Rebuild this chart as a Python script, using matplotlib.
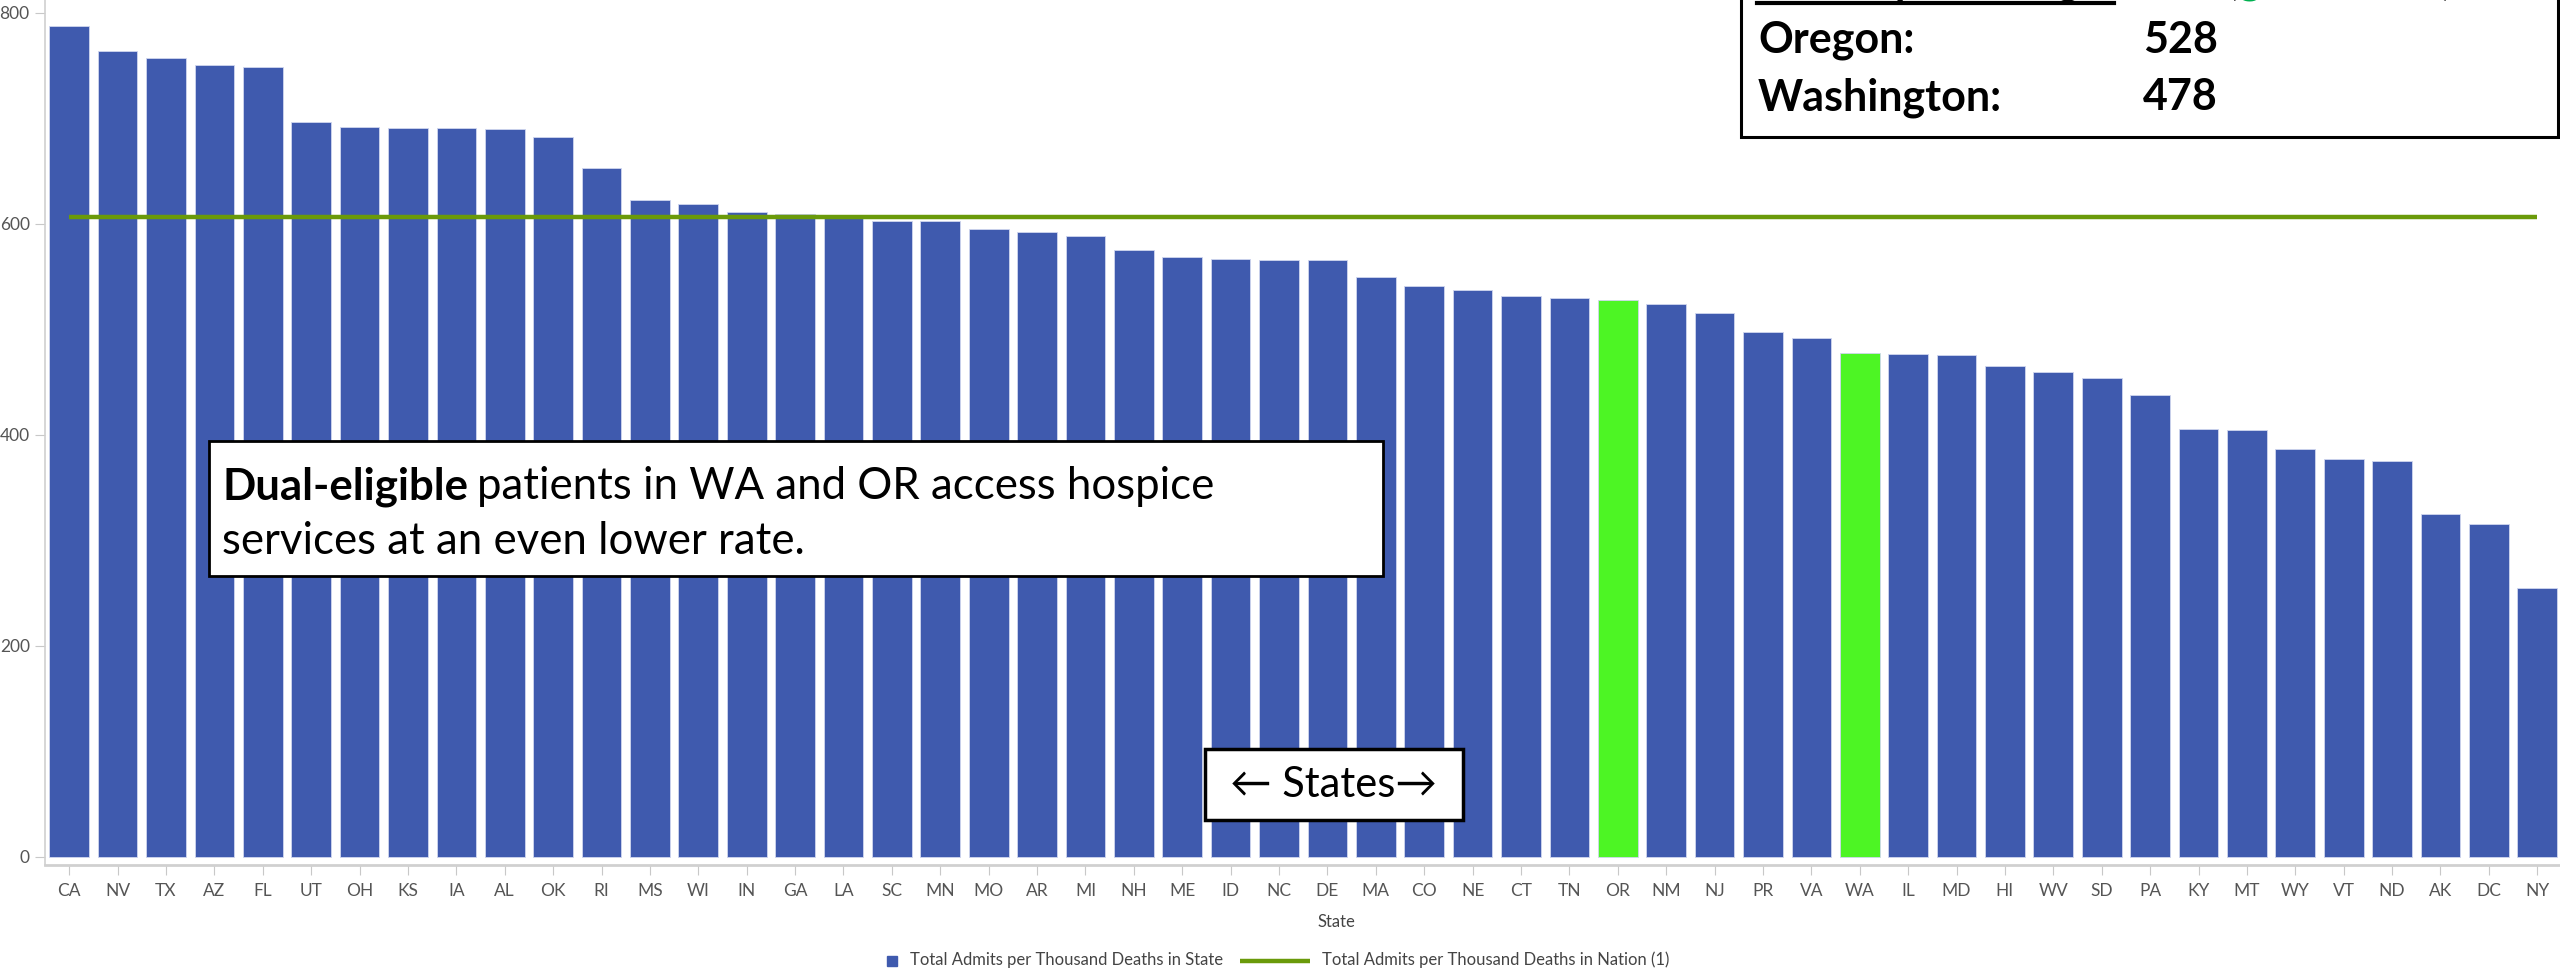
import matplotlib
matplotlib.use("Agg")
import matplotlib.pyplot as plt
from matplotlib.patches import Rectangle
from matplotlib.lines import Line2D

states = ["CA", "NV", "TX", "AZ", "FL", "UT", "OH", "KS", "IA", "AL", "OK", "RI", "MS",
          "WI", "IN", "GA", "LA", "SC", "MN", "MO", "AR", "MI", "NH", "ME", "ID", "NC",
          "DE", "MA", "CO", "NE", "CT", "TN", "OR", "NM", "NJ", "PR", "VA", "WA", "IL",
          "MD", "HI", "WV", "SD", "PA", "KY", "MT", "WY", "VT", "ND", "AK", "DC", "NY"]
admits = [788, 764, 757, 751, 749, 697, 692, 691, 691, 690, 682, 653, 623,
          619, 611, 609, 606, 603, 603, 595, 592, 589, 575, 569, 567, 566,
          566, 550, 541, 537, 532, 530, 528, 524, 516, 498, 492, 478, 477,
          476, 465, 460, 454, 438, 406, 405, 387, 377, 375, 325, 316, 255]
highlight = ["OR", "WA"]
nation_rate = 607
yticks = [0, 200, 400, 600, 800]
legend_labels = ["Total Admits per Thousand Deaths in State",
                 "Total Admits per Thousand Deaths in Nation (1)"]

W, H = 2560, 969
BLUE = "#3F5AAE"
GREEN = "#4DF524"
OLIVE = "#6A9A0A"
FONT = ["Lato", "DejaVu Sans"]

def fx(x):
    return x / W

def fy(y):
    return 1 - y / H

fig = plt.figure(figsize=(W / 100, H / 100), dpi=100)
ax = fig.add_axes([fx(45), fy(865), 1 - fx(45), 865 / H])

x = list(range(len(states)))
colors = [GREEN if s in highlight else BLUE for s in states]
ax.bar(x, admits, width=0.82, color=colors, edgecolor="#d0d6ee", linewidth=0.6, zorder=2)
ax.plot([x[0], x[-1]], [nation_rate, nation_rate], color=OLIVE, lw=3.2, zorder=3,
        solid_capstyle="butt")

ax.set_xlim(-0.5, 51.47)
ax.set_ylim(-7.6, 812.3)
ax.set_xticks(x)
ax.set_xticklabels(states)
ax.set_yticks(yticks)
for sp in ["top", "right"]:
    ax.spines[sp].set_visible(False)
ax.spines["left"].set_color("#d0d0d0")
ax.spines["bottom"].set_color("#d0d0d0")
ax.spines["bottom"].set_linewidth(2)
ax.spines["left"].set_linewidth(1.2)
ax.tick_params(axis="x", length=7, color="#c8c8c8", pad=6, labelsize=12.5,
               labelcolor="#555555")
ax.tick_params(axis="y", length=7, color="#c8c8c8", pad=4, labelsize=12.5,
               labelcolor="#555555")
for lab in ax.get_xticklabels() + ax.get_yticklabels():
    lab.set_family(FONT)

fig.text(fx(1336), fy(922), "State", ha="center", va="center", fontsize=12,
         color="#444444", family=FONT)

# Legend (drawn manually to match spacing)
fig.add_artist(Line2D([fx(892)], [fy(961)], transform=fig.transFigure, marker="s",
                      ls="none", color=BLUE, markersize=7.5))
fig.text(fx(910), fy(965), legend_labels[0], ha="left", va="baseline", fontsize=12,
         color="#444444", family=FONT)
fig.add_artist(Line2D([fx(1240), fx(1310)], [fy(961), fy(961)], transform=fig.transFigure,
                      color=OLIVE, lw=3.2, solid_capstyle="butt"))
fig.text(fx(1322), fy(965), legend_labels[1], ha="left", va="baseline", fontsize=12,
         color="#444444", family=FONT)

fig.canvas.draw()
renderer = fig.canvas.get_renderer()

# Top-right info box
fig.add_artist(Rectangle((fx(1741), fy(137)), fx(2558) - fx(1741), 1 - fy(137) + 0.05,
                         transform=fig.transFigure, facecolor="white",
                         edgecolor="black", lw=2.2, zorder=5, clip_on=False))
fig.add_artist(Line2D([fx(1757), fx(2114)], [fy(3), fy(3)], transform=fig.transFigure,
                      color="black", lw=3, zorder=6))
BS = 31
fig.text(fx(2114), fy(-6), "Hospice Usage:", ha="right", va="baseline", fontsize=BS,
         weight="bold", family=FONT, zorder=6)
p1 = fig.text(fx(2226), fy(-6), "(", ha="left", va="baseline", fontsize=BS,
              weight="bold", family=FONT, zorder=6)
b1 = p1.get_window_extent(renderer)
g1 = fig.text(b1.x1 / W + 0.0005, fy(-6), "green bars", ha="left", va="baseline",
              fontsize=BS, weight="bold", family=FONT, color="#00B050", zorder=6)
b2 = g1.get_window_extent(renderer)
fig.text(max(b2.x1 / W + 0.0005, fx(2436)), fy(-6), ")", ha="left", va="baseline",
         fontsize=BS, weight="bold", family=FONT, zorder=6)
fig.text(fx(1758), fy(53), "Oregon:", ha="left", va="baseline", fontsize=BS,
         weight="bold", family=FONT, zorder=6)
fig.text(fx(2143), fy(53), "528", ha="left", va="baseline", fontsize=BS,
         weight="bold", family=FONT, zorder=6)
fig.text(fx(1758), fy(110), "Washington:", ha="left", va="baseline", fontsize=BS,
         weight="bold", family=FONT, zorder=6)
fig.text(fx(2143), fy(110), "478", ha="left", va="baseline", fontsize=BS,
         weight="bold", family=FONT, zorder=6)

# Dual-eligible box
DS = 31.5
fig.add_artist(Rectangle((fx(209), fy(576)), fx(1383) - fx(209), fy(441) - fy(576),
                         transform=fig.transFigure, facecolor="white",
                         edgecolor="black", lw=2, zorder=5))
t1 = fig.text(fx(222), fy(487), "Dual-eligible", ha="left", va="center", fontsize=DS,
              weight="bold", family=FONT, zorder=6)
bb = t1.get_window_extent(renderer)
fig.text(bb.x1 / W + fx(9), fy(487), "patients in WA and OR access hospice",
         ha="left", va="center", fontsize=DS, family=FONT, zorder=6)
fig.text(fx(222), fy(542), "services at an even lower rate.", ha="left", va="center",
         fontsize=DS, family=FONT, zorder=6)

# States box
fig.add_artist(Rectangle((fx(1205), fy(820)), fx(1463) - fx(1205), fy(749) - fy(820),
                         transform=fig.transFigure, facecolor="white",
                         edgecolor="black", lw=2.5, zorder=5))
fig.text(fx(1334), fy(785), "\u2190 States\u2192", ha="center", va="center", fontsize=30,
         family=FONT, zorder=6)

fig.savefig("out.png", dpi=100)
